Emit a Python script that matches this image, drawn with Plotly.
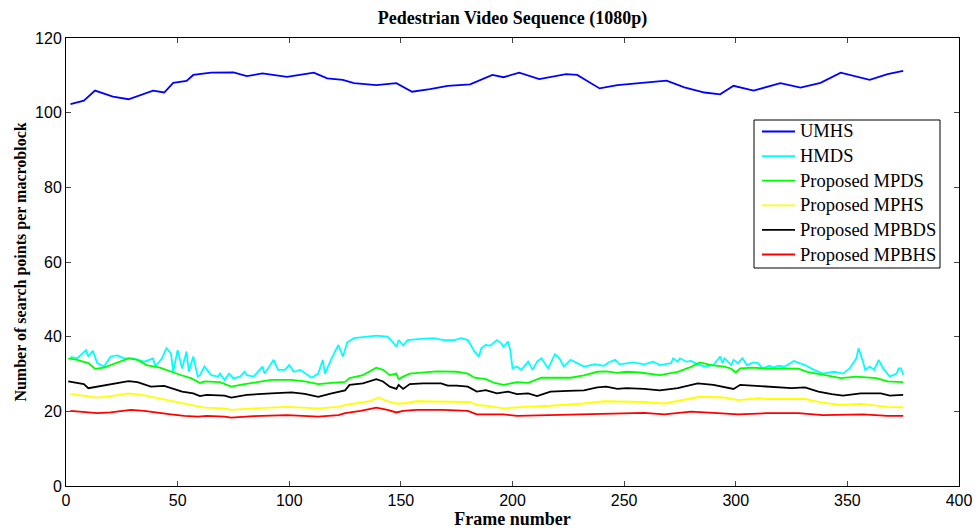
import plotly.graph_objects as go

# ---------------- data ----------------
umhs_f = [2, 8, 13, 21, 28, 39, 44, 48, 54, 57, 65, 75, 81, 88, 99, 111, 117, 124, 129, 139,
          148, 155, 163, 171, 181, 191, 196, 203, 212, 224, 229, 239, 247, 257, 269, 277, 286,
          293, 299, 308, 320, 329, 338, 347, 353, 360, 368, 375]
umhs_v = [102.3, 103.2, 105.9, 104.3, 103.6, 105.9, 105.4, 108.0, 108.5, 110.1, 110.7, 110.8,
          109.8, 110.5, 109.6, 110.7, 109.2, 108.8, 107.9, 107.4, 107.9, 105.6, 106.3, 107.2,
          107.6, 110.1, 109.5, 110.7, 109.0, 110.3, 110.1, 106.5, 107.4, 108.0, 108.6, 106.8,
          105.4, 104.9, 107.2, 105.9, 107.9, 106.7, 108.0, 110.7, 109.8, 108.8, 110.3, 111.2]

hmds_f = [2, 5, 9, 10, 12, 14, 17, 20, 23, 26, 30, 35, 39, 40, 43, 45, 47, 48, 50, 52, 54, 55,
          57, 59, 60, 62, 65, 68, 69, 71, 73, 75, 78, 80, 81, 84, 88, 89, 93, 95, 98, 100, 102,
          105, 110, 113, 115, 116, 119, 122, 124, 126, 129, 135, 139, 144, 146, 148, 149, 151,
          153, 159, 165, 169, 174, 177, 180, 183, 185, 186, 188, 190, 193, 195, 196, 198, 199,
          200, 202, 204, 207, 209, 211, 213, 216, 219, 221, 223, 226, 229, 232, 237, 241, 243,
          246, 248, 251, 254, 259, 263, 266, 271, 272, 274, 275, 278, 280, 282, 286, 290, 293,
          294, 295, 298, 299, 301, 303, 305, 308, 310, 312, 315, 317, 319, 322, 326, 331, 335,
          339, 344, 348, 351, 354, 355, 357, 358, 360, 362, 364, 366, 369, 372, 373, 374, 375]
hmds_v = [34.6, 34.2, 36.4, 34.7, 36.2, 32.9, 32.0, 34.7, 35.0, 34.2, 34.2, 33.3, 34.2, 32.0,
          34.2, 36.9, 35.5, 30.6, 36.4, 31.5, 36.0, 30.6, 34.7, 29.3, 29.7, 32.0, 29.7, 29.3,
          30.1, 28.4, 30.1, 28.8, 29.3, 30.6, 29.7, 29.3, 32.0, 30.1, 33.8, 31.1, 31.1, 32.4,
          30.6, 31.1, 29.0, 30.1, 33.8, 30.1, 34.2, 37.8, 34.7, 38.5, 39.6, 40.0, 40.3, 40.0,
          38.8, 37.3, 39.1, 37.7, 39.1, 39.4, 39.6, 39.1, 39.1, 39.6, 39.1, 36.0, 34.7, 36.9,
          37.8, 37.6, 39.1, 38.2, 37.3, 38.7, 36.4, 31.5, 32.0, 31.1, 33.3, 31.1, 33.3, 34.2,
          31.5, 35.3, 34.2, 32.0, 33.8, 32.9, 32.0, 32.6, 32.2, 33.1, 33.8, 32.6, 32.9, 33.1,
          32.6, 33.3, 32.4, 32.9, 34.2, 33.3, 34.2, 33.3, 33.5, 32.9, 32.0, 32.4, 34.7, 32.9,
          34.2, 32.4, 33.8, 32.9, 34.2, 32.4, 33.1, 32.9, 31.5, 32.2, 31.7, 32.2, 32.0, 33.5,
          32.4, 31.1, 30.1, 30.6, 30.1, 31.5, 34.2, 36.9, 33.3, 31.1, 32.0, 31.1, 33.8, 31.5,
          29.3, 30.1, 31.5, 31.5, 29.8]

mpds_f = [1, 5, 10, 13, 17, 22, 28, 32, 36, 42, 47, 52, 56, 60, 62, 69, 74, 80, 92, 101, 107,
          113, 119, 125, 127, 133, 139, 142, 145, 148, 149, 151, 154, 160, 166, 175, 180, 183,
          188, 192, 196, 202, 207, 213, 220, 226, 232, 238, 242, 247, 251, 257, 266, 274, 280,
          284, 289, 295, 298, 300, 302, 308, 314, 320, 328, 332, 340, 347, 354, 359, 363, 368,
          372, 375]
mpds_v = [34.2, 33.8, 32.9, 31.4, 31.7, 32.9, 34.2, 33.8, 32.4, 31.7, 30.6, 29.6, 28.9, 27.6,
          28.0, 27.8, 26.6, 27.3, 28.4, 28.4, 28.0, 27.3, 27.6, 27.9, 28.9, 29.7, 31.7, 31.1,
          29.7, 30.1, 28.6, 29.3, 30.1, 30.4, 30.7, 30.6, 30.1, 29.0, 28.6, 27.6, 27.1, 27.8,
          27.6, 29.0, 28.9, 29.0, 29.6, 30.6, 30.7, 30.3, 30.6, 30.4, 29.7, 30.6, 31.9, 33.1,
          32.4, 32.0, 31.4, 30.4, 31.5, 31.7, 31.4, 31.5, 31.4, 30.6, 29.7, 28.9, 29.3, 29.1,
          28.9, 28.0, 27.8, 27.8]

mphs_f = [2, 8, 14, 20, 28, 34, 40, 45, 51, 57, 62, 71, 74, 84, 99, 113, 122, 125, 130, 136,
          140, 144, 148, 151, 157, 166, 175, 181, 184, 188, 196, 205, 217, 232, 241, 251, 259,
          268, 277, 284, 295, 301, 310, 314, 322, 331, 338, 347, 356, 362, 368, 375]
mphs_v = [24.7, 24.1, 23.7, 24.1, 24.8, 24.4, 23.7, 23.1, 22.4, 21.7, 21.0, 20.8, 20.4, 20.8,
          21.2, 20.8, 21.2, 21.7, 22.1, 22.7, 23.7, 22.7, 22.1, 22.1, 22.7, 22.7, 22.7, 22.5,
          21.7, 21.5, 20.8, 21.2, 21.5, 22.1, 22.7, 22.5, 22.5, 22.1, 23.0, 23.9, 23.7, 23.0,
          23.5, 23.3, 23.3, 23.3, 22.4, 21.7, 22.0, 21.7, 21.2, 21.1]

mpbds_f = [1, 8, 10, 14, 20, 28, 32, 38, 44, 47, 52, 57, 60, 63, 71, 74, 81, 92, 101, 107,
           113, 119, 125, 127, 133, 139, 142, 145, 148, 149, 151, 154, 160, 168, 171, 175, 180,
           184, 188, 193, 198, 202, 207, 211, 217, 225, 232, 238, 242, 247, 251, 259, 266, 274,
           283, 290, 295, 299, 302, 310, 314, 319, 325, 331, 337, 343, 348, 356, 360, 365, 369,
           374, 375]
mpbds_v = [28.0, 27.3, 26.2, 26.6, 27.1, 28.1, 27.8, 26.6, 26.8, 26.2, 25.3, 24.8, 24.1, 24.4,
           24.2, 23.7, 24.4, 24.8, 25.1, 24.7, 23.9, 24.8, 25.6, 27.1, 27.5, 28.6, 28.0, 26.6,
           26.0, 27.1, 26.0, 27.3, 27.5, 27.5, 26.9, 26.9, 26.6, 25.3, 25.7, 24.8, 25.3, 24.6,
           24.8, 24.1, 25.3, 25.5, 25.6, 26.4, 26.6, 26.0, 26.2, 26.0, 25.6, 26.2, 27.5, 27.1,
           26.6, 26.0, 27.1, 26.8, 26.6, 26.4, 26.2, 26.4, 25.3, 24.6, 24.2, 24.8, 24.8, 24.8,
           24.2, 24.2, 24.4]

mpbhs_f = [2, 8, 14, 20, 29, 35, 41, 47, 53, 59, 63, 71, 74, 84, 99, 113, 122, 125, 132, 139,
           144, 148, 151, 157, 169, 180, 184, 188, 196, 202, 217, 232, 247, 251, 259, 268, 280,
           292, 301, 314, 322, 328, 339, 350, 357, 368, 375]
mpbhs_v = [20.1, 19.9, 19.5, 19.7, 20.4, 20.1, 19.6, 19.2, 18.8, 18.6, 18.8, 18.6, 18.3, 18.7,
           19.0, 18.6, 19.0, 19.5, 20.1, 21.0, 20.4, 19.7, 20.1, 20.4, 20.4, 20.1, 19.2, 19.2,
           19.2, 18.8, 19.0, 19.3, 19.5, 19.5, 19.6, 19.2, 19.9, 19.5, 19.2, 19.5, 19.5, 19.5,
           19.0, 19.0, 19.2, 18.8, 18.8]

names = ["UMHS", "HMDS", "Proposed MPDS", "Proposed MPHS", "Proposed MPBDS", "Proposed MPBHS"]
frames = [umhs_f, hmds_f, mpds_f, mphs_f, mpbds_f, mpbhs_f]
values = [umhs_v, hmds_v, mpds_v, mphs_v, mpbds_v, mpbhs_v]
colors = ["#0000FF", "#00FFFF", "#00FF00", "#FFFF00", "#000000", "#FF0000"]

x_ticks = [0, 50, 100, 150, 200, 250, 300, 350, 400]
y_ticks = [0, 20, 40, 60, 80, 100, 120]

# ---------------- figure ----------------
W, H = 979, 531
ML, MR, MT, MB = 66, 20, 38, 45
PW, PH = W - ML - MR, H - MT - MB


def px(xp):
    return (xp - ML) / PW


def py(yp):
    return (H - MB - yp) / PH


fig = go.Figure()
for name, f, v, c in zip(names, frames, values, colors):
    fig.add_trace(go.Scatter(x=f, y=v, mode="lines", name=name, showlegend=False,
                             line=dict(color=c, width=1.8)))

tickfont = dict(family="Liberation Sans, Arial", size=16, color="#000000")
serif = "Liberation Serif, Times New Roman, serif"

# MATLAB-style legend box (compact rows as in the reference)
shapes = [dict(type="rect", xref="paper", yref="paper",
               x0=px(754), x1=px(940), y0=py(268), y1=py(120),
               line=dict(color="#000000", width=1), fillcolor="#FFFFFF", layer="above")]
annotations = []
row0, row_step = 131.5, 24.6
for i, (name, c) in enumerate(zip(names, colors)):
    yrow = row0 + i * row_step
    shapes.append(dict(type="line", xref="paper", yref="paper",
                       x0=px(762), x1=px(795), y0=py(yrow), y1=py(yrow),
                       line=dict(color=c, width=1.8), layer="above"))
    annotations.append(dict(xref="paper", yref="paper", x=px(798), y=py(yrow),
                            xanchor="left", yanchor="middle", showarrow=False,
                            text=name, font=dict(family=serif, size=18.5, color="#000000")))

fig.update_layout(
    width=W, height=H,
    margin=dict(l=ML, r=MR, t=MT, b=MB, autoexpand=False),
    paper_bgcolor="#FFFFFF", plot_bgcolor="#FFFFFF",
    showlegend=False,
    title=dict(text="<b>Pedestrian Video Sequence (1080p)</b>",
               font=dict(family=serif, size=18, color="#000000"),
               x=0.5, xanchor="center", xref="paper",
               y=0.966, yanchor="middle", yref="container", automargin=False),
    xaxis=dict(range=[0, 400], tickvals=x_ticks, ticks="inside", ticklen=5,
               showline=True, linecolor="#000000", linewidth=1, mirror="ticks",
               showgrid=False, zeroline=False, tickfont=tickfont, automargin=False,
               title=dict(text="<b>Frame number</b>",
                          font=dict(family=serif, size=18, color="#000000"), standoff=2)),
    yaxis=dict(range=[0, 120], tickvals=y_ticks, ticks="inside", ticklen=5,
               showline=True, linecolor="#000000", linewidth=1, mirror="ticks",
               showgrid=False, zeroline=False, tickfont=tickfont, automargin=False,
               title=dict(text="<b>Number of search points per macroblock</b>",
                          font=dict(family=serif, size=16, color="#000000"), standoff=4)),
    shapes=shapes,
    annotations=annotations,
)

fig.write_html("out.html", config={"displayModeBar": False},
               post_script="document.body.style.margin='0';document.body.style.overflow='hidden';")
